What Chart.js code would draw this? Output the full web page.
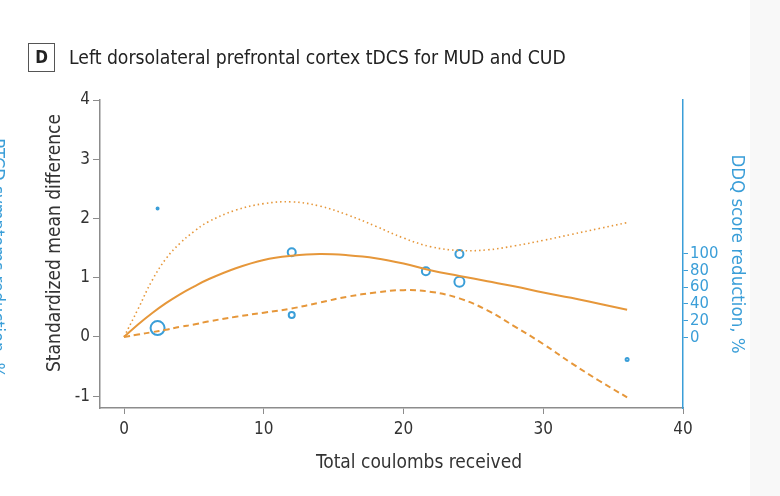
<!DOCTYPE html>
<html>
<head>
<meta charset="utf-8">
<script src="https://cdn.jsdelivr.net/npm/chart.js@4"></script>
<style>
    body { margin: 0; background: #fff; font-family: 'DejaVu Sans Condensed', 'DejaVu Sans', sans-serif; }
    #wrap { position: relative; width: 780px; height: 496px; overflow: hidden; }
    #side { position: absolute; left: 750px; top: 0; width: 30px; height: 496px; background: #f8f8f8; }
    #chart { position: absolute; left: 0; top: 0; }
    #panel { position: absolute; left: 28px; top: 43px; width: 25px; height: 27px; border: 1.5px solid #555;
             font-weight: bold; font-size: 17px; line-height: 27px; text-align: center; color: #222; }
    #title { position: absolute; left: 69px; top: 46px; font-size: 19.2px; line-height: 24px; color: #222; white-space: nowrap; }
    .axisTitle { position: absolute; height: 24px; line-height: 24px; font-size: 19px; color: #333;
                 text-align: center; white-space: nowrap; }
    #xTitle { left: 269px; top: 449px; width: 300px; }
    #yTitle { left: -97px; top: 231px; width: 300px; transform: rotate(-90deg); }
    #cutLabel { position: absolute; left: -132px; top: 249px; width: 260px; height: 18px; line-height: 18px;
                font-size: 18px; color: #3a9ed8; text-align: center; white-space: nowrap; transform: rotate(90deg); }
</style>
</head>
<body>
<div id="wrap">
    <div id="side"></div>
    <canvas id="chart" width="780" height="496"></canvas>
    <div id="panel">D</div>
    <div id="title">Left dorsolateral prefrontal cortex tDCS for MUD and CUD</div>
    <div id="xTitle" class="axisTitle">Total coulombs received</div>
    <div id="yTitle" class="axisTitle">Standardized mean difference</div>
    <div id="cutLabel">RTCD symptoms reduction, %</div>
</div>
<script>
// studies (total coulombs, SMD, relative weight)
const studyCoulombs = [2.4, 2.4, 12, 12, 21.6, 24, 24, 36];
const studySMD = [2.17, 0.15, 1.43, 0.37, 1.11, 1.40, 0.93, -0.38];
const studyWeight = [1, 7, 4, 3, 4, 4, 5, 1.5];

// fitted dose-response curve and its 95% band
const curveX = [0, 1, 2, 3, 4, 5, 6, 8, 10, 12, 14, 16, 18, 20, 22, 24, 26, 28, 30, 32, 34, 36];
const fitSMD = [0, 0.21, 0.40, 0.57, 0.72, 0.85, 0.97, 1.16, 1.30, 1.37, 1.40, 1.38, 1.33, 1.24, 1.12, 1.03, 0.94, 0.85, 0.75, 0.66, 0.56, 0.46];
const upperSMD = [0, 0.47, 0.95, 1.32, 1.58, 1.78, 1.94, 2.14, 2.25, 2.28, 2.21, 2.06, 1.87, 1.67, 1.52, 1.46, 1.47, 1.54, 1.63, 1.73, 1.83, 1.93];
const lowerSMD = [0, 0.04, 0.08, 0.12, 0.17, 0.21, 0.26, 0.34, 0.41, 0.48, 0.58, 0.68, 0.75, 0.79, 0.76, 0.65, 0.45, 0.17, -0.12, -0.44, -0.74, -1.02];

const xTicks = [0, 10, 20, 30, 40];
const smdTicks = [-1, 0, 1, 2, 3, 4];
const ddqTicks = [0, 20, 40, 60, 80, 100];

const ORANGE = '#e6973a';
const BLUE = '#3a9ed8';
const GREY = '#8c8c8c';
const TEXT = '#333';

Chart.defaults.font.family = "'DejaVu Sans Condensed', 'DejaVu Sans', sans-serif";

function curve(ys, width, dash) {
    return {
        type: 'line',
        data: curveX.map((x, i) => ({ x: x, y: ys[i] })),
        borderColor: ORANGE,
        borderWidth: width,
        borderDash: dash,
        pointRadius: 0,
        tension: 0.4,
        fill: false,
        yAxisID: 'y'
    };
}

function fixedTicks(values) {
    return scale => { scale.ticks = values.map(v => ({ value: v })); };
}

new Chart(document.getElementById('chart').getContext('2d'), {
    data: {
        datasets: [
            curve(fitSMD, 2, []),
            curve(upperSMD, 1.6, [1.5, 3]),
            curve(lowerSMD, 2, [6, 4]),
            {
                type: 'scatter',
                data: studyCoulombs.map((x, i) => ({ x: x, y: studySMD[i] })),
                pointRadius: studyWeight,
                pointBorderColor: BLUE,
                pointBackgroundColor: 'rgba(255,255,255,0)',
                pointBorderWidth: 2,
                yAxisID: 'y'
            }
        ]
    },
    options: {
        responsive: false,
        animation: false,
        devicePixelRatio: 1,
        layout: { padding: { top: 100, left: 0, right: 0, bottom: 0 } },
        plugins: { legend: { display: false }, tooltip: { enabled: false } },
        scales: {
            x: {
                type: 'linear',
                min: -1.72,
                max: 40,
                afterBuildTicks: fixedTicks(xTicks),
                afterFit: s => { s.height = 88; },
                border: { color: GREY, width: 1.5 },
                grid: { drawOnChartArea: false, color: GREY, tickLength: 6 },
                ticks: { color: TEXT, font: { size: 17 }, padding: 5 }
            },
            y: {
                position: 'left',
                min: -1.2,
                max: 4,
                afterBuildTicks: fixedTicks(smdTicks),
                afterFit: s => { s.width = 100; },
                border: { color: GREY, width: 1.5 },
                grid: { drawOnChartArea: false, color: GREY, tickLength: 7 },
                ticks: { color: TEXT, font: { size: 17 }, padding: 3 }
            },
            y2: {
                position: 'right',
                min: -84,
                max: 283,
                afterBuildTicks: fixedTicks(ddqTicks),
                afterFit: s => { s.width = 97; },
                border: { color: BLUE, width: 1.5 },
                grid: { drawOnChartArea: false, color: BLUE, tickLength: 5 },
                ticks: { color: BLUE, font: { size: 16.5 }, padding: 2, autoSkip: false },
                title: { display: true, text: 'DDQ score reduction, %', color: BLUE, font: { size: 18.5 }, padding: { top: 32, bottom: 32 } }
            }
        }
    }
});
</script>
</body>
</html>
